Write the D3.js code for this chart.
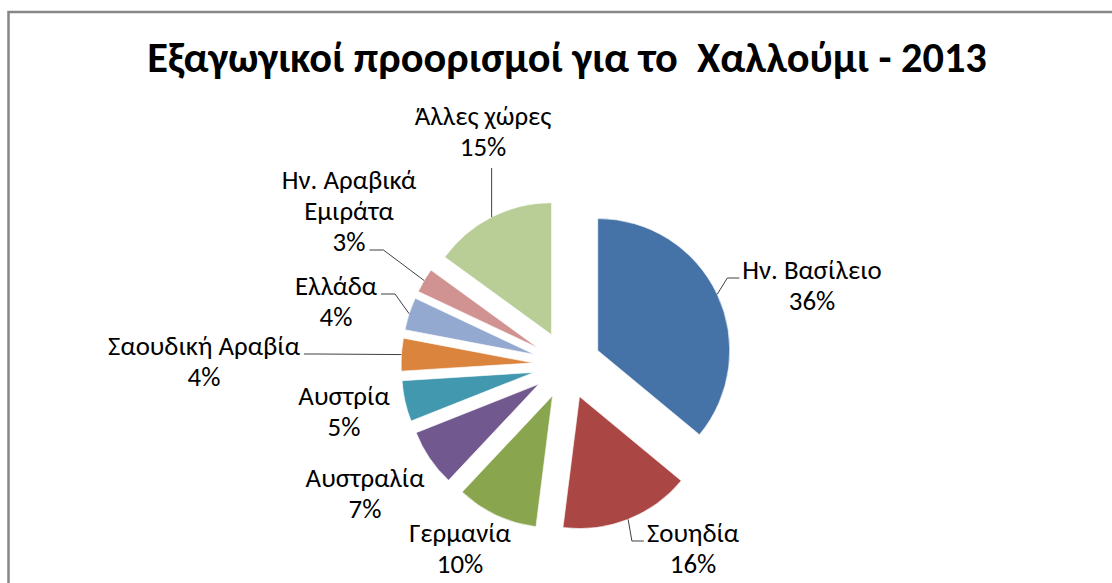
<!DOCTYPE html>
<html>
<head>
<meta charset="utf-8">
<script src="https://cdn.jsdelivr.net/npm/d3@7"></script>
<style>
  html, body { margin: 0; padding: 0; background: #fff; }
  svg { display: block; }
  text { font-family: Carlito, Calibri, "Open Sans", "Noto Sans", sans-serif; }
</style>
</head>
<body>
<svg id="chart" width="1112" height="583"></svg>
<script>
// ---- data ----
const titleText = "Εξαγωγικοί προορισμοί για το  Χαλλούμι - 2013";
const categories = ["Ην. Βασίλειο", "Σουηδία", "Γερμανία", "Αυστραλία", "Αυστρία",
                    "Σαουδική Αραβία", "Ελλάδα", "Ην. Αραβικά Εμιράτα", "Άλλες χώρες"];
const values = [36, 16, 10, 7, 5, 4, 4, 3, 15];
const labelNames = [["Ην. Βασίλειο"], ["Σουηδία"], ["Γερμανία"], ["Αυστραλία"], ["Αυστρία"],
                    ["Σαουδική Αραβία"], ["Ελλάδα"], ["Ην. Αραβικά", "Εμιράτα"], ["Άλλες χώρες"]];
const colors = ["#4572A7", "#AA4643", "#89A54E", "#71588F", "#4198AF",
                "#DB843D", "#93A9CF", "#D19392", "#B9CD96"];

// ---- layout (styling / placement, not data) ----
const W = 1112, H = 583;
const cx = 567, cy = 365, R = 132, explode = 34;
// label anchor: offset of the label's centre / first baseline from pie centre
const labelOffsets = [[245, -86], [126, 177], [-107, 177], [-202, 122], [-223, 40],
                      [-363, -10], [-231, -70], [-218, -176], [-84, -240]];
// leader: side of the label the line attaches to, and which text line
const leaders = [{side: "left", line: 0}, {side: "left", line: 0}, null, null, null,
                 {side: "right", line: 0}, {side: "right", line: 0}, {side: "right", line: 2},
                 {side: "bottom"}];
const lineH = 31;

const svg = d3.select("#chart");

// chart area border
svg.append("rect")
  .attr("x", 8.5).attr("y", 12).attr("width", 1300).attr("height", 800)
  .attr("fill", "#fff").attr("stroke", "#878787").attr("stroke-width", 2.5);

// title, fitted to reference width
const title = svg.append("text")
  .attr("x", cx).attr("y", 72)
  .attr("text-anchor", "middle")
  .attr("font-weight", "bold")
  .attr("fill", "#000")
  .style("white-space", "pre")
  .attr("font-size", 100)
  .text(titleText);
const tw = title.node().getComputedTextLength();
title.attr("font-size", 100 * 840 / tw);

// pie
const pie = d3.pie().sort(null).value(d => d);
const arcs = pie(values);
const arc = d3.arc().innerRadius(0).outerRadius(R);
const rimArc = d3.arc().innerRadius(R).outerRadius(R);
const dirArc = d3.arc().innerRadius(explode).outerRadius(explode);

const g = svg.append("g").attr("transform", `translate(${cx},${cy})`);
g.selectAll("path.slice")
  .data(arcs)
  .join("path")
  .attr("class", "slice")
  .attr("transform", d => { const c = dirArc.centroid(d); return `translate(${c[0]},${c[1]})`; })
  .attr("d", arc)
  .attr("fill", (d, i) => colors[i])
  .attr("stroke", "#ffffff")
  .attr("stroke-opacity", 0.6)
  .attr("stroke-width", 1);

// labels: fit font so that the longest label matches reference width
const total = d3.sum(values);
const probe = svg.append("text").attr("font-size", 100).text("Σαουδική Αραβία");
const labelSize = 100 * 192 / probe.node().getComputedTextLength();
probe.remove();

const labelG = svg.append("g");
arcs.forEach((d, i) => {
  const lines = labelNames[i].concat([Math.round(d.value / total * 100) + "%"]);
  const x = cx + labelOffsets[i][0], y = cy + labelOffsets[i][1];
  const t = labelG.append("text")
    .attr("text-anchor", "middle")
    .attr("font-size", labelSize)
    .attr("fill", "#000");
  const tspans = lines.map((s, k) => t.append("tspan").attr("x", x).attr("y", y + k * lineH).text(s));

  const L = leaders[i];
  if (!L) return;
  const dir = dirArc.centroid(d), rim = rimArc.centroid(d);
  const start = [cx + dir[0] + rim[0], cy + dir[1] + rim[1]];
  let pts;
  if (L.side === "bottom") {
    const bb = t.node().getBBox();
    pts = [start, [start[0], bb.y + bb.height + 5]];
  } else {
    const ts = tspans[L.line].node();
    const w = ts.getComputedTextLength();
    const by = y + L.line * lineH - 1;
    const ex = L.side === "left" ? x - w / 2 - 3 : x + w / 2 + 4;
    const elbow = L.side === "left" ? ex - 12 : ex + 14;
    pts = [start, [elbow, by], [ex, by]];
  }
  labelG.append("path")
    .attr("d", d3.line()(pts))
    .attr("fill", "none")
    .attr("stroke", "#404040")
    .attr("stroke-width", 1);
});
</script>
</body>
</html>
